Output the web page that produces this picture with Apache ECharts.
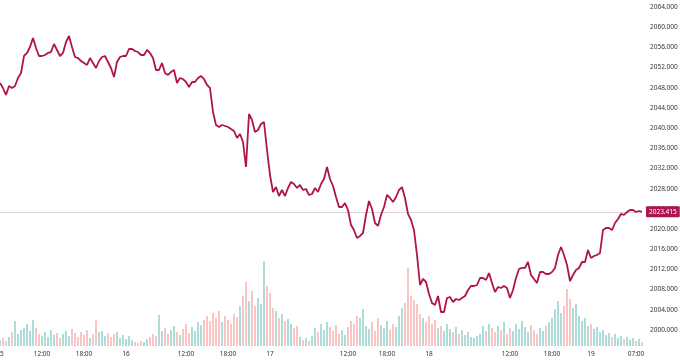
<!DOCTYPE html>
<html>
<head>
<meta charset="utf-8">
<script src="https://cdn.jsdelivr.net/npm/echarts@6/dist/echarts.min.js"></script>
<style>
html,body{margin:0;padding:0;background:#fff;}
#chart{width:680px;height:360px;}
</style>
</head>
<body>
<div id="chart"></div>
<script>
const prices = [
2048.94,2047.95,2046.56,2048.35,2047.95,2048.35,2049.93,2050.92,2054.29,2054.89,
2056.07,2057.86,2055.88,2054.29,2054.29,2054.49,2054.89,2055.08,2056.67,2055.48,
2054.29,2054.89,2057.07,2058.25,2056.07,2054.09,2053.89,2053.30,2052.90,2052.51,
2053.89,2052.90,2051.91,2053.30,2054.09,2054.29,2053.10,2051.91,2050.13,2053.10,
2054.09,2054.29,2054.29,2055.68,2055.68,2055.28,2055.08,2054.49,2054.49,2055.48,
2054.89,2053.89,2051.52,2051.52,2052.90,2050.92,2050.53,2051.12,2051.52,2048.94,
2049.93,2049.73,2049.14,2048.15,2049.14,2049.14,2049.93,2050.33,2049.73,2048.55,
2047.95,2043.20,2040.62,2040.22,2040.62,2040.42,2040.22,2039.83,2039.43,2038.04,
2038.84,2037.25,2032.30,2042.80,2041.61,2039.23,2039.63,2040.82,2041.21,2035.67,
2030.71,2027.34,2028.33,2026.55,2027.74,2026.55,2028.14,2029.33,2028.93,2028.14,
2028.73,2027.74,2027.94,2026.75,2026.95,2028.14,2027.34,2028.93,2029.92,2032.30,
2029.92,2028.53,2026.35,2024.37,2024.37,2025.16,2023.78,2020.81,2019.81,2018.23,
2018.63,2019.22,2022.79,2025.56,2023.98,2021.20,2020.61,2022.79,2024.37,2026.75,
2026.16,2025.36,2026.35,2027.74,2028.33,2026.16,2022.99,2021.80,2019.81,2014.86,
2008.92,2010.11,2009.51,2007.13,2005.35,2004.95,2006.74,2003.57,2003.57,2006.34,
2006.54,2005.55,2006.14,2005.94,2006.34,2006.74,2007.93,2008.72,2008.72,2008.92,
2010.30,2010.30,2009.91,2011.29,2009.31,2007.53,2008.52,2008.32,2008.72,2008.32,
2006.34,2007.93,2010.30,2012.09,2012.29,2012.29,2013.47,2010.90,2010.11,2009.31,
2011.49,2011.49,2011.10,2011.10,2011.49,2012.29,2014.86,2016.45,2014.86,2012.88,
2009.71,2010.90,2011.89,2012.29,2013.47,2013.47,2015.85,2014.27,2014.66,2014.86,
2015.26,2019.81,2020.21,2020.21,2019.81,2021.20,2021.99,2022.99,2022.79,2023.38,
2023.78,2023.78,2023.38,2023.58,2023.415
];
const volumes = [
6,8,5,9,14,25,12,16,18,22,15,26,18,12,10,14,9,16,11,13,8,
12,15,10,17,13,9,14,11,16,8,12,26,14,
15,10,13,9,12,14,8,11,7,10,6,4,3,5,4,7,9,12,10,31,
15,18,12,16,20,14,11,17,22,13,19,15,24,
21,26,30,25,33,28,35,24,30,26,22,32,29,40,
50,64,45,55,40,48,42,
85,60,53,38,35,28,32,25,27,22,18,20,9,6,8,5,10,18,14,22,16,24,19,15,21,12,
16,11,19,25,22,30,28,37,20,17,24,15,28,21,18,25,16,22,19,30,
38,43,78,50,46,42,32,28,24,30,22,26,18,20,15,22,17,14,19,12,
16,11,14,9,8,10,12,20,15,22,18,14,20,16,24,12,18,15,22,17,
25,19,14,21,16,12,18,15,20,24,28,37,45,33,40,57,47,38,42,30,
25,28,20,22,17,19,14,16,11,13,9,12,8,10,7,9,6,8,5,7,4
];
const tickLabels = ['15','12:00','18:00','16','12:00','18:00','17','12:00','18:00','18','12:00','18:00','19','07:00'];
const tickIndex = [0,14,28,42,62,76,90,116,129,143,170,184,197,212];
const lastPrice = 2023.415;

const categories = prices.map((_, i) => String(i));
const labelMap = {};
tickIndex.forEach((idx, k) => { labelMap[idx] = tickLabels[k]; });

const LINE = '#AE1550';
const UP = 'rgba(38,166,154,0.38)';
const DOWN = 'rgba(239,83,80,0.33)';
const volData = volumes.map((v, i) => ({
  value: v,
  itemStyle: { color: (i === 0 || prices[i] >= prices[i - 1]) ? UP : DOWN }
}));

const chart = echarts.init(document.getElementById('chart'));
const FONT = 'Noto Sans';
chart.setOption({
  animation: false,
  backgroundColor: '#ffffff',
  grid: [
    { left: 0, right: 38, top: 7, bottom: 30, outerBoundsMode: 'none' },
    { left: 0, right: 38, top: 246, bottom: 14, outerBoundsMode: 'none' }
  ],
  xAxis: [
    { type: 'category', gridIndex: 0, data: categories, boundaryGap: false,
      axisLine: { show: false }, axisTick: { show: false }, axisLabel: { show: false }, splitLine: { show: false } },
    { type: 'category', gridIndex: 1, data: categories, boundaryGap: false,
      axisLine: { show: false }, axisTick: { show: false }, splitLine: { show: false },
      axisLabel: {
        show: true, margin: 5, fontSize: 6.5, fontFamily: FONT, color: '#333',
        align: 'center', alignMinLabel: 'center', alignMaxLabel: 'center', hideOverlap: false,
        interval: (idx) => labelMap[idx] !== undefined,
        formatter: (val, idx) => labelMap[idx] !== undefined ? labelMap[idx] : ''
      } }
  ],
  yAxis: [
    { type: 'value', gridIndex: 0, position: 'right', min: 2000, max: 2064, interval: 4,
      axisLine: { show: false }, axisTick: { show: false }, splitLine: { show: false },
      axisLabel: { margin: 8, fontSize: 6.5, fontFamily: FONT, color: '#333',
        formatter: (v) => v.toFixed(3) } },
    { type: 'value', gridIndex: 1, min: 0, max: 100, show: false, splitLine: { show: false } }
  ],
  series: [
    { type: 'bar', xAxisIndex: 1, yAxisIndex: 1, data: volData, barWidth: 2, z: 1 },
    { type: 'line', xAxisIndex: 0, yAxisIndex: 0, data: prices, symbol: 'none', z: 5,
      lineStyle: { color: LINE, width: 1.8 },
      markLine: {
        silent: true, symbol: 'none',
        lineStyle: { color: '#e2d3d8', width: 1, type: 'solid' },
        label: { show: true, position: 'end', distance: 4, formatter: lastPrice.toFixed(3),
          color: '#fff', backgroundColor: LINE, fontSize: 6.5, fontFamily: FONT,
          padding: [2, 3, 2, 3], borderRadius: 1 },
        data: [{ yAxis: lastPrice }]
      } }
  ]
});
</script>
</body>
</html>
